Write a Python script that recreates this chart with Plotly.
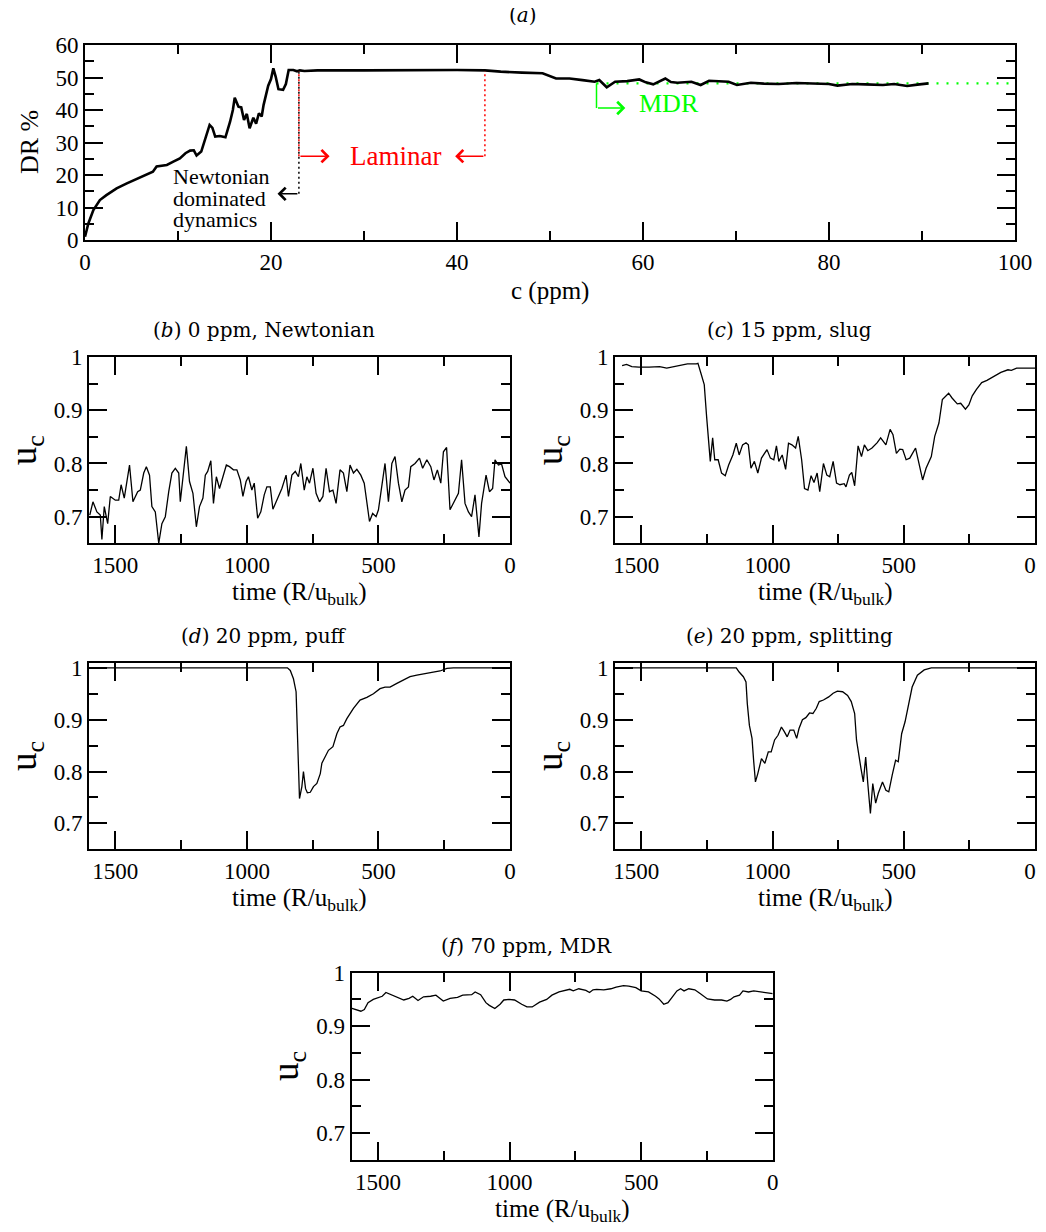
import plotly.graph_objects as go

# page is shown with an 8px body margin, so the figure is 16px smaller than the window
PAGE_W, PAGE_H = 1046, 1232
MARGIN = 8
W, H = PAGE_W - 2 * MARGIN, PAGE_H - 2 * MARGIN

# ---------------- data: panel (a) drag reduction vs concentration ----------------
dr_c = [0.0, 0.1, 0.36, 0.9, 1.6, 2.3, 3.4, 4.5, 5.6, 6.6, 7.3, 7.7, 8.8, 9.5, 10.2, 10.8,
        11.3, 11.7, 12.0, 12.5, 12.9, 13.4, 13.7, 14.0, 14.5, 15.1, 15.6, 15.9, 16.1, 16.5,
        16.8, 17.1, 17.4, 17.7, 18.1, 18.4, 18.7, 19.0, 19.2, 19.4, 19.7, 20.0, 20.25, 20.5,
        20.8, 21.3, 21.6, 21.9, 22.4, 22.8, 23.1, 23.6, 25.0, 30.0, 35.0, 40.0, 43.0, 44.7,
        47.0, 49.2, 50.65, 52.1, 53.5, 54.8, 55.3, 56.1, 57.0, 58.3, 59.6, 60.3, 61.1, 62.4,
        63.0, 63.7, 65.2, 66.2, 67.1, 68.2, 69.2, 70.1, 71.6, 73.0, 74.6, 76.5, 78.3, 80.0,
        80.9, 82.5, 83.9, 85.8, 87.0, 88.4, 89.5, 90.7]
dr_pct = [1.0, 2.0, 5.1, 9.2, 12.3, 13.8, 15.9, 17.4, 18.8, 20.0, 21.0, 22.6, 23.1, 24.1, 25.1, 26.7,
          27.5, 27.6, 26.0, 27.2, 30.8, 35.4, 34.5, 31.8, 32.0, 31.6, 36.4, 40.0, 43.8, 41.0,
          40.8, 36.9, 38.8, 34.4, 37.6, 35.8, 39.0, 38.0, 41.5, 44.0, 47.5, 49.5, 52.8, 50.3,
          46.4, 46.2, 48.0, 52.3, 52.3, 51.9, 52.2, 52.0, 52.2, 52.2, 52.3, 52.3, 52.2, 51.8,
          51.5, 51.3, 49.7, 49.7, 49.2, 48.7, 49.2, 47.0, 48.7, 48.9, 49.4, 48.5, 47.9, 49.7,
          48.6, 48.4, 48.7, 47.7, 49.0, 48.8, 48.7, 47.7, 48.4, 48.1, 48.0, 48.3, 48.2, 48.0,
          47.5, 48.0, 47.9, 47.7, 48.0, 47.4, 47.8, 48.2]
mdr_c = [55.0, 100.0]
mdr_level = [48.2, 48.2]

# annotation anchors for panel (a) (data units)
LAM_START, LAM_END = 23.0, 43.0
LAM_HEAD_R, LAM_HEAD_L = 26.3, 39.8
LAM_Y, PLATEAU_Y = 25.8, 52.0
NEWT_HEAD, NEWT_Y = 20.7, 14.2
MDR_START, MDR_HEAD, MDR_ARROW_Y = 55.0, 58.1, 40.6

# ---------------- data: panels (b)-(f) centreline velocity ----------------
b_t = [1597, 1585, 1570, 1557, 1551, 1542, 1529, 1519, 1500, 1487,
       1478, 1466, 1446, 1433, 1415, 1405, 1392, 1382, 1370, 1361,
       1348, 1335, 1323, 1310, 1297, 1285, 1272, 1259, 1253, 1243,
       1230, 1218, 1205, 1192, 1180, 1167, 1158, 1149, 1137, 1127,
       1116, 1104, 1091, 1078, 1066, 1051, 1038, 1025, 1015, 1003,
       994, 981, 972, 959, 947, 934, 924, 911, 901, 886,
       867, 851, 842, 829, 816, 804, 795, 782, 772, 762,
       749, 737, 724, 711, 699, 686, 673, 661, 646, 633,
       620, 608, 595, 582, 567, 554, 544, 534, 522, 509,
       500, 487, 475, 462, 449, 437, 424, 411, 399, 386,
       377, 361, 344, 332, 316, 301, 289, 276, 263, 253,
       241, 228, 215, 196, 184, 171, 158, 146, 133, 118,
       108, 91, 78, 66, 57, 44, 32, 19, 0]
b_u = [0.703, 0.728, 0.709, 0.703, 0.657, 0.719, 0.687, 0.738, 0.731, 0.731,
       0.760, 0.735, 0.797, 0.728, 0.747, 0.750, 0.782, 0.794, 0.778, 0.719,
       0.709, 0.650, 0.687, 0.700, 0.747, 0.782, 0.791, 0.782, 0.728, 0.772,
       0.832, 0.766, 0.744, 0.681, 0.719, 0.735, 0.778, 0.785, 0.805, 0.725,
       0.775, 0.753, 0.775, 0.797, 0.794, 0.788, 0.788, 0.769, 0.738, 0.766,
       0.775, 0.750, 0.763, 0.697, 0.709, 0.741, 0.756, 0.756, 0.714, 0.731,
       0.753, 0.778, 0.738, 0.778, 0.785, 0.775, 0.800, 0.750, 0.775, 0.763,
       0.791, 0.744, 0.728, 0.738, 0.791, 0.747, 0.750, 0.725, 0.788, 0.782,
       0.747, 0.797, 0.782, 0.789, 0.778, 0.763, 0.725, 0.691, 0.706, 0.700,
       0.713, 0.763, 0.800, 0.728, 0.800, 0.813, 0.763, 0.728, 0.750, 0.756,
       0.794, 0.800, 0.810, 0.791, 0.807, 0.794, 0.769, 0.788, 0.763, 0.822,
       0.830, 0.713, 0.725, 0.744, 0.807, 0.725, 0.709, 0.700, 0.741, 0.662,
       0.725, 0.778, 0.747, 0.753, 0.807, 0.797, 0.799, 0.775, 0.763]

c_t = [1573, 1556, 1536, 1509, 1470, 1430, 1403, 1377, 1350, 1324,
       1290, 1284, 1273, 1260, 1251, 1244, 1237, 1228, 1220, 1207,
       1194, 1180, 1167, 1151, 1138, 1127, 1114, 1101, 1092, 1082,
       1069, 1056, 1042, 1021, 1008, 995, 985, 976, 963, 950,
       939, 926, 912, 902, 889, 878, 865, 853, 842, 830,
       820, 806, 793, 782, 769, 756, 743, 727, 720, 707,
       698, 687, 674, 661, 650, 637, 621, 601, 588, 568,
       552, 541, 528, 515, 504, 491, 477, 455, 442, 428,
       415, 395, 382, 366, 353, 329, 316, 296, 283, 273,
       265, 252, 239, 223, 203, 183, 156, 130, 103, 90,
       70, 37, 0]
c_u = [0.984, 0.986, 0.982, 0.981, 0.981, 0.982, 0.979, 0.982, 0.984, 0.987,
       0.987, 0.988, 0.970, 0.948, 0.888, 0.851, 0.804, 0.848, 0.807, 0.807,
       0.782, 0.777, 0.797, 0.816, 0.838, 0.816, 0.835, 0.839, 0.835, 0.791,
       0.804, 0.782, 0.810, 0.826, 0.810, 0.807, 0.833, 0.804, 0.816, 0.789,
       0.838, 0.835, 0.829, 0.851, 0.807, 0.753, 0.750, 0.777, 0.764, 0.782,
       0.747, 0.800, 0.778, 0.775, 0.804, 0.763, 0.760, 0.762, 0.756, 0.778,
       0.783, 0.758, 0.833, 0.813, 0.835, 0.824, 0.829, 0.839, 0.848, 0.835,
       0.864, 0.854, 0.819, 0.827, 0.826, 0.807, 0.810, 0.829, 0.797, 0.769,
       0.791, 0.813, 0.851, 0.876, 0.920, 0.932, 0.923, 0.912, 0.913, 0.907,
       0.902, 0.910, 0.927, 0.939, 0.952, 0.956, 0.964, 0.971, 0.976, 0.975,
       0.979, 0.979, 0.979]

d_t = [1597, 846, 835, 823, 813, 806, 800, 791, 785, 777,
       770, 759, 747, 734, 721, 715, 702, 690, 673, 658,
       646, 633, 620, 595, 570, 544, 519, 494, 475, 456,
       430, 405, 380, 354, 316, 291, 266, 240, 215, 0]
d_u = [1.0, 1.0, 0.995, 0.979, 0.954, 0.854, 0.748, 0.771, 0.800, 0.767,
       0.759, 0.760, 0.771, 0.777, 0.796, 0.816, 0.828, 0.841, 0.848, 0.873,
       0.886, 0.889, 0.902, 0.922, 0.938, 0.943, 0.950, 0.960, 0.963, 0.963,
       0.970, 0.976, 0.983, 0.986, 0.989, 0.991, 0.994, 0.999, 1.0, 1.0]

e_t = [1602, 1138, 1127, 1111, 1101, 1096, 1088, 1078, 1072, 1065,
       1056, 1042, 1029, 1016, 1005, 992, 979, 966, 955, 944,
       933, 919, 908, 899, 886, 873, 859, 846, 833, 822,
       806, 786, 769, 753, 733, 714, 700, 687, 680, 671,
       663, 654, 645, 637, 627, 618, 607, 597, 581, 568,
       557, 544, 531, 521, 508, 495, 481, 468, 448, 422,
       395, 0]
e_u = [1.0, 1.0, 0.992, 0.983, 0.973, 0.931, 0.889, 0.864, 0.822, 0.780,
       0.796, 0.825, 0.816, 0.838, 0.838, 0.861, 0.870, 0.886, 0.877, 0.867,
       0.880, 0.880, 0.864, 0.883, 0.900, 0.904, 0.913, 0.912, 0.922, 0.935,
       0.938, 0.944, 0.951, 0.955, 0.954, 0.947, 0.935, 0.912, 0.861, 0.828,
       0.806, 0.780, 0.828, 0.777, 0.719, 0.777, 0.739, 0.758, 0.780, 0.764,
       0.761, 0.793, 0.822, 0.819, 0.873, 0.896, 0.931, 0.963, 0.986, 0.996,
       1.0, 1.0]

f_t = [1602, 1586, 1565, 1552, 1538, 1518, 1497, 1484, 1470, 1450,
       1429, 1402, 1382, 1368, 1348, 1327, 1300, 1280, 1252, 1226,
       1198, 1178, 1144, 1131, 1110, 1090, 1077, 1056, 1036, 1022,
       1002, 981, 954, 934, 914, 886, 859, 839, 812, 784,
       771, 758, 737, 710, 696, 683, 669, 642, 615, 595,
       567, 547, 520, 500, 472, 445, 432, 414, 398, 384,
       364, 350, 337, 319, 296, 276, 248, 221, 194, 174,
       160, 147, 126, 113, 92, 72, 45, 24, 0]
f_u = [0.934, 0.931, 0.928, 0.931, 0.944, 0.950, 0.954, 0.956, 0.963, 0.959,
       0.955, 0.949, 0.952, 0.956, 0.948, 0.955, 0.956, 0.958, 0.947, 0.952,
       0.954, 0.958, 0.959, 0.964, 0.959, 0.944, 0.939, 0.933, 0.941, 0.949,
       0.950, 0.949, 0.941, 0.936, 0.936, 0.945, 0.950, 0.958, 0.964, 0.968,
       0.969, 0.966, 0.970, 0.967, 0.963, 0.968, 0.969, 0.968, 0.970, 0.973,
       0.976, 0.975, 0.972, 0.966, 0.964, 0.956, 0.951, 0.941, 0.944, 0.953,
       0.966, 0.970, 0.966, 0.970, 0.968, 0.961, 0.951, 0.949, 0.949, 0.947,
       0.950, 0.955, 0.958, 0.966, 0.964, 0.966, 0.964, 0.963, 0.961]

panel_titles = ["(<i>b</i>) 0 ppm, Newtonian", "(<i>c</i>) 15 ppm, slug",
                "(<i>d</i>) 20 ppm, puff", "(<i>e</i>) 20 ppm, splitting",
                "(<i>f</i>) 70 ppm, MDR"]

# ---------------- layout geometry (page pixels) ----------------
def fx(p):
    return (p - MARGIN) / W


def fy(p):
    return 1 - (p - MARGIN) / H


SERIF = "Liberation Serif, Times New Roman, Times, serif"
TITLE_FAMILY = "DejaVu Serif, serif"

# (left, right, top, bottom) of each time panel in page pixels
boxes = [(89, 510, 357, 543.3), (615, 1035, 357, 543.3),
         (89, 510, 662.7, 849.3), (615, 1035, 662.7, 849.3),
         (351.7, 772.7, 972.7, 1160)]
y_ranges = [[0.65, 1.0], [0.65, 1.0], [0.65, 1.01], [0.65, 1.01], [0.65, 1.0]]
label_shift = [0, 5, 0, 5, 0]
series = [(b_t, b_u), (c_t, c_u), (d_t, d_u), (e_t, e_u), (f_t, f_u)]


def axis(domain, anchor, rng, dtick, mdtick, shift=0):
    return dict(domain=domain, anchor=anchor, range=rng, autorange=False,
                showgrid=False, zeroline=False, showline=True, linecolor="black",
                linewidth=2, mirror="ticks", ticks="inside", ticklen=18,
                tickwidth=1.6, tickcolor="black", tick0=0, dtick=dtick,
                ticklabeloverflow="allow", ticklabelshift=shift,
                minor=dict(ticks="inside", ticklen=9, tickwidth=1.6, tickcolor="black",
                           tick0=0, dtick=mdtick, showgrid=False),
                tickfont=dict(family=SERIF, size=23, color="black"))


def label(text, px, py, size, angle=0, family=SERIF, color="black"):
    return dict(text=text, x=fx(px), y=fy(py), xref="paper", yref="paper",
                showarrow=False, xanchor="center", yanchor="middle", textangle=angle,
                font=dict(family=family, size=size, color=color))


fig = go.Figure()

# panel (a)
fig.add_trace(go.Scatter(x=mdr_c, y=mdr_level, mode="lines",
                         line=dict(color="#00ff00", width=2.2, dash="2px,8px"),
                         xaxis="x", yaxis="y", showlegend=False, hoverinfo="skip"))
fig.add_trace(go.Scatter(x=dr_c, y=dr_pct, mode="lines",
                         line=dict(color="black", width=2.6),
                         xaxis="x", yaxis="y", showlegend=False))

layout = dict(
    width=W, height=H, margin=dict(l=0, r=0, t=0, b=0, autoexpand=False),
    paper_bgcolor="white", plot_bgcolor="white", showlegend=False,
    font=dict(family=SERIF, color="black"),
    xaxis=axis([fx(85), fx(1015)], "y", [0, 100], 20, 10),
    yaxis=axis([fy(240), fy(45)], "x", [0, 60], 10, 5),
)

annotations = []
shapes = []

for i, ((t, u), (l, r, top, bot), yr) in enumerate(zip(series, boxes, y_ranges)):
    k = i + 2
    xa, ya = "x%d" % k, "y%d" % k
    fig.add_trace(go.Scatter(x=t, y=u, mode="lines", line=dict(color="black", width=1.3),
                             xaxis=xa, yaxis=ya, showlegend=False))
    layout["xaxis%d" % k] = axis([fx(l), fx(r)], ya, [1600, 0], 500, 250, label_shift[i])
    layout["yaxis%d" % k] = axis([fy(bot), fy(top)], xa, yr, 0.1, 0.05)
    cx = (l + r) / 2
    cy = (top + bot) / 2
    annotations.append(label(panel_titles[i], cx - 36, top - 27, 20, family=TITLE_FAMILY))
    annotations.append(dict(text="time (R/u<sub>bulk</sub>)", x=fx(cx), y=fy(bot + 33),
                            xref="paper", yref="paper", showarrow=False,
                            xanchor="center", yanchor="top",
                            font=dict(family=SERIF, size=25, color="black")))
    annotations.append(label("u<sub>c</sub>", l - 63, cy, 37, angle=-90))

annotations += [
    label("(<i>a</i>)", 523, 15, 20, family=TITLE_FAMILY),
    label("c (ppm)", 550, 291, 25),
    label("DR %", 29, 142, 26, angle=-90),
    dict(text="Laminar", x=(LAM_START + LAM_END) / 2 + 0.4, y=LAM_Y, xref="x", yref="y",
         xanchor="center", yanchor="middle",
         showarrow=False, font=dict(family=SERIF, size=27, color="#ff0000")),
    dict(text="MDR", x=62.8, y=42.0, xref="x", yref="y", xanchor="center", yanchor="middle",
         showarrow=False, font=dict(family=SERIF, size=26, color="#00ff00")),
    dict(text="Newtonian", x=9.2, y=19.5, xref="x", yref="y", xanchor="left",
         yanchor="middle", showarrow=False, font=dict(family=SERIF, size=22, color="black")),
    dict(text="dominated", x=9.2, y=12.8, xref="x", yref="y", xanchor="left",
         yanchor="middle", showarrow=False, font=dict(family=SERIF, size=22, color="black")),
    dict(text="dynamics", x=9.2, y=6.3, xref="x", yref="y", xanchor="left",
         yanchor="middle", showarrow=False, font=dict(family=SERIF, size=22, color="black")),
]


def arrow(x_head, y_head, x_tail, y_tail, color):
    return dict(text="", x=x_head, y=y_head, ax=x_tail, ay=y_tail,
                xref="x", yref="y", axref="x", ayref="y", showarrow=True,
                arrowhead=4, arrowsize=1.6, arrowwidth=1.5, arrowcolor=color)


annotations += [
    arrow(LAM_HEAD_R, LAM_Y, LAM_START, LAM_Y, "#ff0000"),
    arrow(LAM_HEAD_L, LAM_Y, LAM_END, LAM_Y, "#ff0000"),
    arrow(NEWT_HEAD, NEWT_Y, LAM_START, NEWT_Y, "black"),
    arrow(MDR_HEAD, MDR_ARROW_Y, MDR_START, MDR_ARROW_Y, "#00ff00"),
]

shapes += [
    dict(type="line", xref="x", yref="y", x0=LAM_START, x1=LAM_START, y0=NEWT_Y,
         y1=PLATEAU_Y, line=dict(color="black", width=1.5, dash="2px,3px")),
    dict(type="line", xref="x", yref="y", x0=LAM_START, x1=LAM_START, y0=LAM_Y,
         y1=PLATEAU_Y, line=dict(color="#ff0000", width=1.5, dash="2px,3px")),
    dict(type="line", xref="x", yref="y", x0=LAM_END, x1=LAM_END, y0=LAM_Y,
         y1=PLATEAU_Y, line=dict(color="#ff0000", width=1.5, dash="2px,3px")),
    dict(type="line", xref="x", yref="y", x0=MDR_START, x1=MDR_START, y0=MDR_ARROW_Y,
         y1=mdr_level[0], line=dict(color="#00ff00", width=1.5)),
]

layout["annotations"] = annotations
layout["shapes"] = shapes
fig.update_layout(**layout)

fig.write_html("out.html")
